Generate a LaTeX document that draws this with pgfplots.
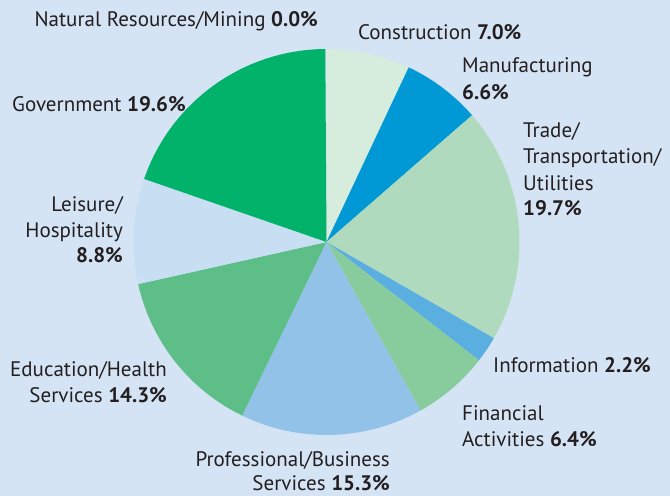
\documentclass[border=0pt]{standalone}
\usepackage{pgfplots}
\pgfplotsset{compat=1.18}
\usepackage{pgfplotstable}
\usepackage{fontspec}
\setmainfont{PT Sans}
\definecolor{bg}{HTML}{D5E4F5}
\definecolor{txt}{HTML}{231F20}
\definecolor{slice0}{HTML}{D6ECDC}
\definecolor{slice1}{HTML}{0099D6}
\definecolor{slice2}{HTML}{AFDABD}
\definecolor{slice3}{HTML}{5AAEE0}
\definecolor{slice4}{HTML}{88CC9E}
\definecolor{slice5}{HTML}{93C2E8}
\definecolor{slice6}{HTML}{5DBE88}
\definecolor{slice7}{HTML}{C8DEF3}
\definecolor{slice8}{HTML}{00B26A}

\pgfplotstableread[col sep=comma]{
label,value
Construction,7.0
Manufacturing,6.6
Trade/Transportation/Utilities,19.7
Information,2.2
Financial Activities,6.4
Professional/Business Services,15.3
Education/Health Services,14.3
Leisure/Hospitality,8.8
Government,19.6
Natural Resources/Mining,0.0
}\piedata

\def\R{193}
\xdef\cum{90}
\pgfplotsforeachungrouped \i in {0,...,9}{%
  \pgfplotstablegetelem{\i}{value}\of\piedata
  \pgfmathsetmacro\endang{\cum-3.6*\pgfplotsretval}%
  \pgfmathsetmacro\sxx{\R*cos(\cum)}%
  \pgfmathsetmacro\syy{\R*sin(\cum)}%
  \expandafter\xdef\csname sa\i\endcsname{\cum}%
  \expandafter\xdef\csname ea\i\endcsname{\endang}%
  \expandafter\xdef\csname sx\i\endcsname{\sxx}%
  \expandafter\xdef\csname sy\i\endcsname{\syy}%
  \xdef\cum{\endang}%
}

\newcommand{\lab}[4]{\node[anchor=#1, inner sep=0pt, text=txt, font=\fontsize{21}{24}\selectfont] at (axis cs:#2,#3) {#4};}

\begin{document}
\begin{tikzpicture}
\begin{axis}[
  x=1pt, y=1pt,
  xmin=-326.5, xmax=343.5, ymin=-254, ymax=242,
  hide axis, clip=false,
]
\fill[bg] (rel axis cs:0,0) rectangle (rel axis cs:1,1);
\pgfplotsinvokeforeach{0,...,8}{%
  \edef\temp{\noexpand\fill[slice#1] (axis cs:0,0) -- (axis cs:\csname sx#1\endcsname,\csname sy#1\endcsname) arc[start angle=\csname sa#1\endcsname, end angle=\csname ea#1\endcsname, radius=\R pt] -- cycle;}%
  \temp
}
\lab{base east}{-8.5}{215}{Natural Resources/Mining \textbf{0.0\%}}
\lab{base west}{-314.5}{130}{Government \textbf{19.6\%}}
\lab{base west}{31.5}{202}{Construction \textbf{7.0\%}}
\lab{base west}{135.5}{169}{Manufacturing}
\lab{base west}{135.5}{142}{\textbf{6.6\%}}
\lab{base west}{196.5}{104}{Trade/}
\lab{base west}{196.5}{78}{Transportation/}
\lab{base west}{196.5}{51}{Utilities}
\lab{base west}{196.5}{26}{\textbf{19.7\%}}
\lab{base east}{-203.5}{30}{Leisure/}
\lab{base east}{-203.5}{4}{Hospitality}
\lab{base east}{-203.5}{-21}{\textbf{8.8\%}}
\lab{base east}{-159.5}{-135}{Education/Health}
\lab{base east}{-159.5}{-160}{Services \textbf{14.3\%}}
\lab{base west}{166.5}{-131}{Information \textbf{2.2\%}}
\lab{base west}{135.5}{-178}{Financial}
\lab{base west}{135.5}{-205}{Activities \textbf{6.4\%}}
\lab{base east}{63.5}{-224}{Professional/Business}
\lab{base east}{63.5}{-248}{Services \textbf{15.3\%}}
\end{axis}
\end{tikzpicture}
\end{document}
